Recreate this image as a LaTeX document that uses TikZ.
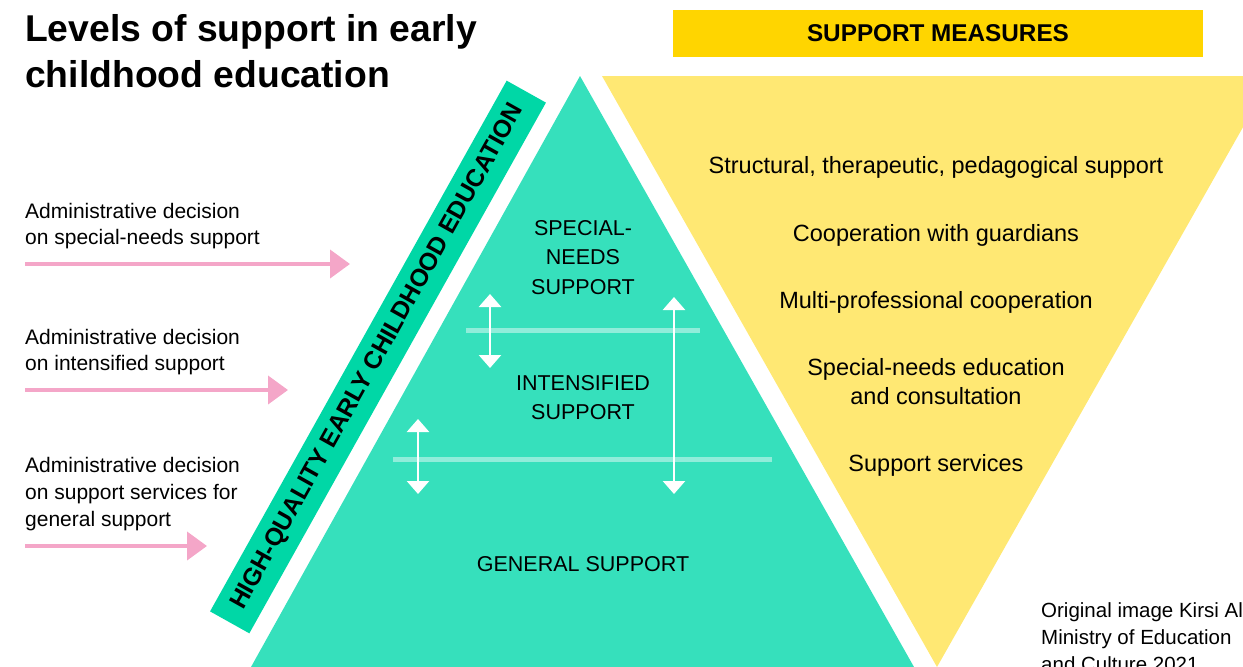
\documentclass[tikz,border=0pt]{standalone}
\usepackage{fontspec}
\setmainfont{Liberation Sans}
\usetikzlibrary{arrows.meta}
\definecolor{mint}{HTML}{36E0BC}
\definecolor{bannergreen}{HTML}{00D7A6}
\definecolor{paleyellow}{HTML}{FFE873}
\definecolor{gold}{HTML}{FFD500}
\definecolor{pinkarrow}{HTML}{F4A6C8}
\tikzset{
  lefttext/.style={anchor=base west, inner sep=0pt, font=\fontsize{21}{26}\selectfont},
  tritext/.style={anchor=base, inner sep=0pt, font=\fontsize{21.5}{26}\selectfont},
  yeltext/.style={anchor=base, inner sep=0pt, font=\fontsize{23.5}{28}\selectfont},
  titletext/.style={anchor=base west, inner sep=0pt, font=\fontsize{37.3}{46}\selectfont\bfseries},
  pinkarr/.style={draw=pinkarrow, line width=4pt, -{Triangle[length=20pt,width=28pt]}},
  whitearr/.style={draw=white, line width=2.6pt, {Triangle[length=13pt,width=22pt]}-{Triangle[length=13pt,width=22pt]}},
  levelline/.style={draw=white, draw opacity=0.45, line width=5pt},
}
\begin{document}
\begin{tikzpicture}[x=1pt,y=-1pt]
\useasboundingbox (0,0) rectangle (1243,667);
\clip (0,0) rectangle (1243,667);
% title
\node[titletext] (title1) at (25,41) {Levels of support in early};
\node[titletext] (title2) at (25,87) {childhood education};
% support measures box
\node[fill=gold, minimum width=530pt, minimum height=47pt, inner sep=0pt, font=\fontsize{24.3}{28}\selectfont\bfseries] (measures) at (938,33.5) {SUPPORT MEASURES};
% yellow inverted triangle
\fill[paleyellow] (602,76) -- (1272,76) -- (937,667) -- cycle;
% green triangle
\fill[mint] (580,76) -- (914,667) -- (251,667) -- cycle;
% banner
\node[fill=bannergreen, minimum width=608pt, minimum height=45pt, inner sep=0pt, rotate=60.8, font=\fontsize{24.7}{28}\selectfont\bfseries] (banner) at (378,357) {HIGH-QUALITY EARLY CHILDHOOD EDUCATION};
% level lines
\coordinate (l1a) at (466,330); \coordinate (l1b) at (700,330);
\coordinate (l2a) at (393,459); \coordinate (l2b) at (772,459);
\draw[levelline] (l1a) -- (l1b);
\draw[levelline] (l2a) -- (l2b);
% white double arrows
\coordinate (a1t) at (490,294); \coordinate (a1b) at (490,368);
\coordinate (a2t) at (418,419); \coordinate (a2b) at (418,494);
\coordinate (a3t) at (674,297); \coordinate (a3b) at (674,494);
\draw[whitearr] (a1t) -- (a1b);
\draw[whitearr] (a2t) -- (a2b);
\draw[whitearr] (a3t) -- (a3b);
% triangle texts
\node[tritext] (sn1) at (583,235.5) {SPECIAL-};
\node[tritext] (sn2) at (583,264.5) {NEEDS};
\node[tritext] (sn3) at (583,294.5) {SUPPORT};
\node[tritext] (is1) at (583,390.5) {INTENSIFIED};
\node[tritext] (is2) at (583,419.5) {SUPPORT};
\node[tritext] (gs) at (583,571.5) {GENERAL SUPPORT};
% yellow texts
\node[yeltext] (m1) at (936,173) {Structural, therapeutic, pedagogical support};
\node[yeltext] (m2) at (936,241) {Cooperation with guardians};
\node[yeltext] (m3) at (936,308) {Multi-professional cooperation};
\node[yeltext] (m4) at (936,375) {Special-needs education};
\node[yeltext] (m5) at (936,404) {and consultation};
\node[yeltext] (m6) at (936,471) {Support services};
% left texts
\node[lefttext] (d1a) at (25,218.5) {Administrative decision};
\node[lefttext] (d1b) at (25,244.5) {on special-needs support};
\node[lefttext] (d2a) at (25,344.5) {Administrative decision};
\node[lefttext] (d2b) at (25,370.5) {on intensified support};
\node[lefttext] (d3a) at (25,472.5) {Administrative decision};
\node[lefttext] (d3b) at (25,499.5) {on support services for};
\node[lefttext] (d3c) at (25,526.5) {general support};
% pink arrows
\coordinate (p1s) at (25,264); \coordinate (p1e) at (350,264);
\coordinate (p2s) at (25,390); \coordinate (p2e) at (288,390);
\coordinate (p3s) at (25,546); \coordinate (p3e) at (207,546);
\draw[pinkarr] (p1s) -- (p1e);
\draw[pinkarr] (p2s) -- (p2e);
\draw[pinkarr] (p3s) -- (p3e);
% credit
\node[lefttext, font=\fontsize{20.5}{26}\selectfont] (c1) at (1041,617.5) {Original image Kirsi Al};
\node[lefttext, font=\fontsize{20.5}{26}\selectfont] (c2) at (1041,644.5) {Ministry of Education};
\node[lefttext, font=\fontsize{20.5}{26}\selectfont] (c3) at (1041,671) {and Culture 2021};
\end{tikzpicture}
\end{document}
